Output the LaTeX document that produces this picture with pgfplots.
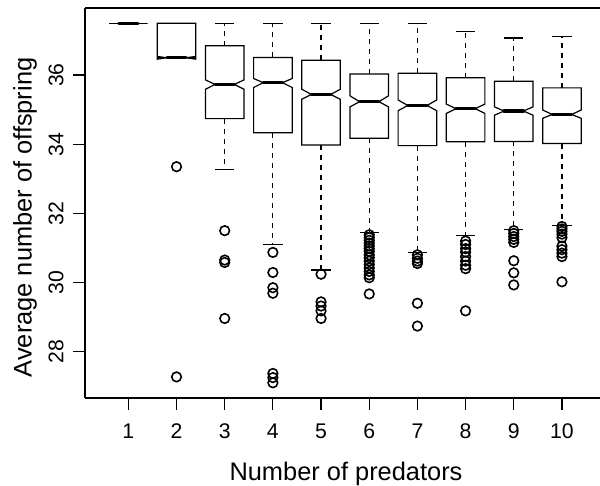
\documentclass[border=0pt]{standalone}
\usepackage{fontspec}
\setmainfont{Liberation Sans}
\usepackage{pgfplots}
\pgfplotsset{compat=1.18}
\tikzset{
  boxline/.style={black, line width=0.6pt, line join=miter, mark=none},
  medline/.style={black, line width=1.7pt, line cap=round, mark=none},
  whisk/.style={black, line width=0.6pt, dash pattern=on 2.5pt off 2.5pt, mark=none},
  capline/.style={black, line width=0.6pt, mark=none},
}
% #1 position, #2 lower whisker, #3 Q1, #4 notch low, #5 median, #6 notch high, #7 Q3, #8 upper whisker
\newcommand\nbox[8]{%
  \addplot[whisk] coordinates {(#1,#7) (#1,#8)};
  \addplot[whisk] coordinates {(#1,#3) (#1,#2)};
  \addplot[capline] coordinates {({#1-0.2},#8) ({#1+0.2},#8)};
  \addplot[capline] coordinates {({#1-0.2},#2) ({#1+0.2},#2)};
  \addplot[boxline] coordinates {({#1-0.4},#3) ({#1+0.4},#3) ({#1+0.4},#4) ({#1+0.2},#5) ({#1+0.4},#6) ({#1+0.4},#7) ({#1-0.4},#7) ({#1-0.4},#6) ({#1-0.2},#5) ({#1-0.4},#4) ({#1-0.4},#3)} -- cycle;
  \addplot[medline] coordinates {({#1-0.2},#5) ({#1+0.2},#5)};
}
\begin{document}
\begin{tikzpicture}
\begin{axis}[
  name=ax,
  scale only axis,
  width=257.5pt, height=195pt,
  xmin=0.1, xmax=10.79,
  ymin=26.66, ymax=37.94,
  axis x line*=box, axis y line*=left,
  axis line style={line width=0.6pt},
  xtick={1,2,3,4,5,6,7,8,9,10},
  ytick={28,30,32,34,36},
  xtick pos=bottom, ytick pos=left,
  tick align=outside,
  major tick length=6pt,
  tick style={black, line width=0.6pt},
  /pgf/number format/assume math mode=true,
  tick label style={font=\fontsize{10.6}{12}\selectfont},
  xticklabel style={anchor=base},
  xticklabel shift=14.15pt,
  yticklabel style={rotate=90, anchor=base},
  yticklabel shift=4.85pt,
  label style={font=\fontsize{12.7}{15}\selectfont},
  xlabel={Number of predators},
  ylabel={Average number of offspring},
  xlabel style={at={(axis description cs:0.5068,-0.2103)}, anchor=base},
  ylabel style={at={(axis description cs:-0.1035,0.463)}, anchor=base},
  clip=false,
]
\nbox{1}{37.5}{37.5}{37.5}{37.5}{37.5}{37.5}{37.5}
\nbox{2}{36.5}{36.5}{36.46}{36.5}{36.54}{37.5}{37.5}
\nbox{3}{33.26}{34.74}{35.59}{35.73}{35.86}{36.85}{37.5}
\nbox{4}{31.09}{34.33}{35.64}{35.78}{35.90}{36.51}{37.5}
\nbox{5}{30.36}{33.98}{35.30}{35.44}{35.59}{36.43}{37.5}
\nbox{6}{31.45}{34.17}{35.08}{35.23}{35.40}{36.03}{37.5}
\nbox{7}{30.87}{33.96}{34.97}{35.12}{35.28}{36.05}{37.5}
\nbox{8}{31.37}{34.07}{34.89}{35.03}{35.16}{35.92}{37.25}
\nbox{9}{31.53}{34.08}{34.84}{34.96}{35.08}{35.82}{37.07}
\nbox{10}{31.66}{34.02}{34.75}{34.86}{34.99}{35.63}{37.11}
\addplot[only marks, mark=o, mark size=2.4pt, mark options={line width=0.8pt, black}] table {
x y
2 33.35
2 27.27
3 31.50
3 30.65
3 30.58
3 28.96
4 30.87
4 30.29
4 29.85
4 29.69
4 27.37
4 27.25
4 27.10
5 30.24
5 29.44
5 29.32
5 29.18
5 28.96
6 31.38
6 31.30
6 31.22
6 31.14
6 31.06
6 30.98
6 30.90
6 30.80
6 30.72
6 30.62
6 30.52
6 30.42
6 30.32
6 30.22
6 30.14
6 29.67
7 30.80
7 30.70
7 30.62
7 30.55
7 29.40
7 28.74
8 31.20
8 31.10
8 30.98
8 30.88
8 30.75
8 30.62
8 30.50
8 30.40
8 29.18
9 31.50
9 31.42
9 31.33
9 31.25
9 31.16
9 30.63
9 30.28
9 29.93
10 31.62
10 31.55
10 31.48
10 31.40
10 31.30
10 31.05
10 30.95
10 30.85
10 30.75
10 30.02
};
\end{axis}
\pgfresetboundingbox
\path ([xshift=-42.5pt,yshift=-44pt]ax.south west) rectangle ([yshift=4pt]ax.north east);
\end{tikzpicture}
\end{document}
